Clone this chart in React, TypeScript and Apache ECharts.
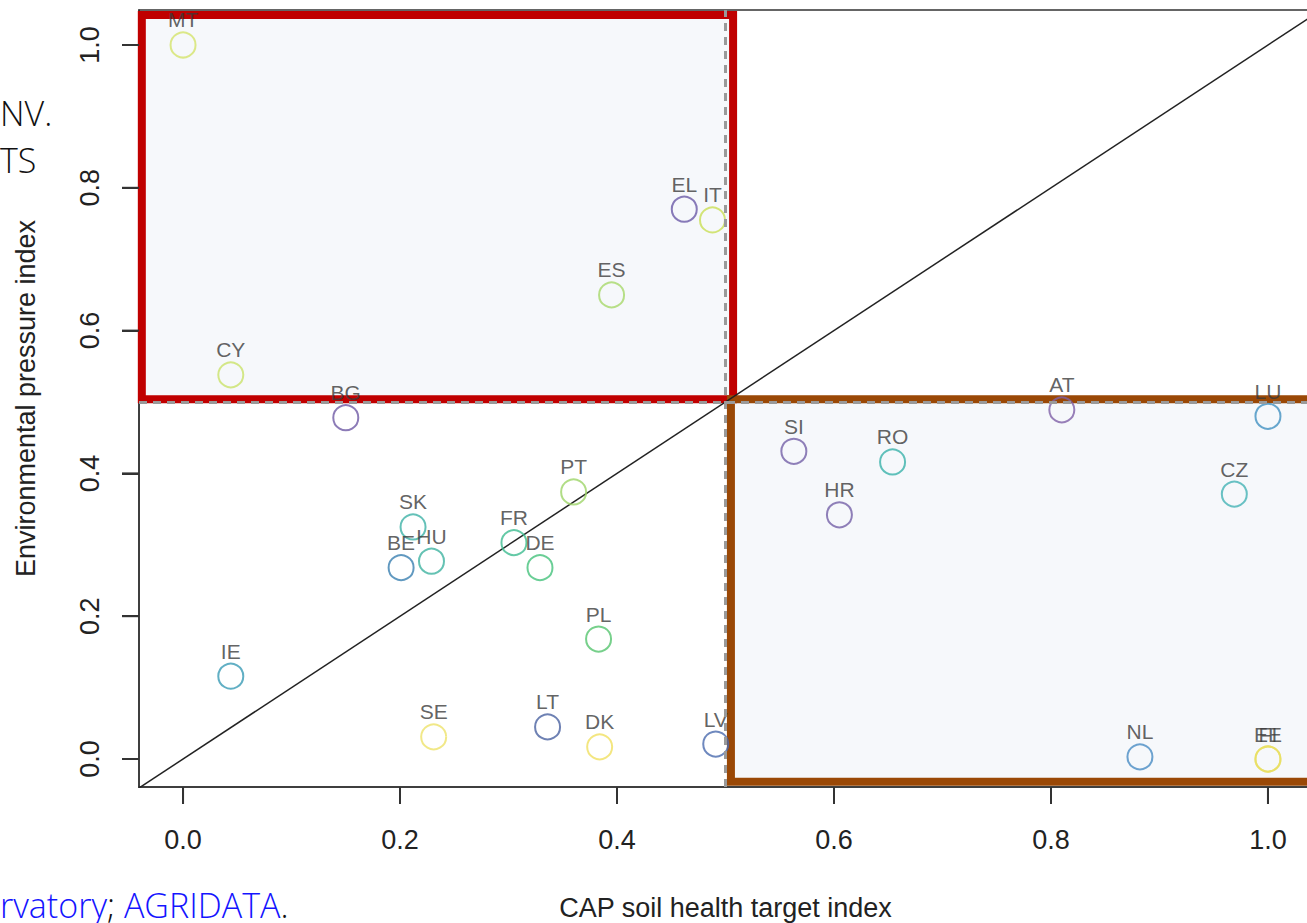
import React, { useEffect, useRef } from "react";
import * as echarts from "echarts";

const countries = ["MT","CY","BG","EL","IT","ES","PT","SK","BE","HU","FR","DE","PL","IE","SE","LT","DK","LV","SI","HR","RO","AT","LU","CZ","NL","EE","FI"];
const soilIndex = [0.0,0.044,0.150,0.462,0.488,0.395,0.360,0.212,0.201,0.229,0.305,0.329,0.383,0.044,0.231,0.336,0.384,0.491,0.563,0.605,0.654,0.810,1.0,0.969,0.882,1.0,1.0];
const pressureIndex = [1.0,0.538,0.478,0.770,0.755,0.650,0.374,0.325,0.268,0.277,0.303,0.268,0.168,0.116,0.031,0.045,0.017,0.021,0.431,0.342,0.416,0.489,0.480,0.371,0.003,0.0,0.0];
const pointColors = ["#D4E46B","#CBE26A","#6F5AA5","#6B5AA8","#C9DF55","#A8D86A","#9ED468","#3DB1A6","#3A7FB0","#3EB3A0","#3DBB90","#45C27C","#55C46E","#3A9BB5","#EEE26A","#4A62A0","#F0E060","#4A6AAE","#7460A8","#7460A8","#3AB2AA","#8060A8","#4291C2","#45B3B5","#4A8CC4","#E9DE60","#E9DE60"];
const tickValues = [0, 0.2, 0.4, 0.6, 0.8, 1.0];
const xTitle = "CAP soil health target index";
const yTitle = "Environmental pressure index";

const X_MIN = -0.0406, X_MAX = 1.0406;
const Y_MIN = -0.0392, Y_MAX = 1.049;
const G_LEFT = 139, G_TOP = 10, G_W = 1173, G_H = 777;

export default function App() {
  const ref = useRef<HTMLDivElement>(null);
  useEffect(() => {
    document.body.style.margin = "0";
    const chart = echarts.init(ref.current!, null, { renderer: "svg" });
    const axisFont = "'Liberation Sans', Arial, sans-serif";
    const sideFont = "'Open Sans', sans-serif";
    const tickLen = 17;
    const xPix = (v: number) => G_LEFT + ((v - X_MIN) / (X_MAX - X_MIN)) * G_W;
    const yPix = (v: number) => G_TOP + ((Y_MAX - v) / (Y_MAX - Y_MIN)) * G_H;
    const tickItems: any[] = [];
    tickValues.forEach((v) => {
      const px = xPix(v);
      const py = yPix(v);
      tickItems.push({ type: "line", zlevel: 1, z: 100, shape: { x1: px, y1: G_TOP + G_H, x2: px, y2: G_TOP + G_H + tickLen }, style: { stroke: "#333", lineWidth: 2 } });
      tickItems.push({ type: "line", zlevel: 1, z: 100, shape: { x1: G_LEFT, y1: py, x2: G_LEFT - tickLen, y2: py }, style: { stroke: "#333", lineWidth: 2 } });
    });
    const textItems: any[] = [
      { type: "text", style: { x: 0, y: 113, text: "NV.", fontSize: 34, fontFamily: sideFont, fontWeight: 300, fill: "#111", verticalAlign: "middle" } },
      { type: "text", style: { x: 0, y: 160, text: "TS", fontSize: 34, fontFamily: sideFont, fontWeight: 300, fill: "#111", verticalAlign: "middle" } },
      {
        type: "text",
        style: {
          x: 0, y: 905,
          text: "{b|rvatory}{k|; }{b|AGRIDATA}{k|.}",
          verticalAlign: "middle",
          rich: {
            b: { fontSize: 34, fontFamily: sideFont, fontWeight: 300, fill: "#1414FF", color: "#1414FF" },
            k: { fontSize: 34, fontFamily: sideFont, fontWeight: 300, fill: "#111", color: "#111" },
          },
        },
      },
    ];
    chart.setOption({
      animation: false,
      backgroundColor: "#ffffff",
      grid: { left: G_LEFT, top: G_TOP, width: G_W, height: G_H, show: true, borderColor: "#333", borderWidth: 1.5, backgroundColor: "transparent", containLabel: false, outerBoundsMode: "none" },
      xAxis: {
        type: "value", min: X_MIN, max: X_MAX,
        axisLine: { show: true, onZero: false, lineStyle: { color: "#333", width: 1.5 } }, splitLine: { show: false },
        axisTick: { show: true, inside: false, customValues: tickValues, length: tickLen, lineStyle: { color: "#333", width: 2 } },
        axisLabel: { customValues: tickValues, formatter: (v: number) => v.toFixed(1), fontSize: 27, color: "#222", margin: 39, fontFamily: axisFont },
        name: xTitle, nameLocation: "middle", nameGap: 107,
        nameTextStyle: { fontSize: 27, color: "#222", fontFamily: axisFont },
      },
      yAxis: {
        type: "value", min: Y_MIN, max: Y_MAX,
        axisLine: { show: true, onZero: false, lineStyle: { color: "#333", width: 1.5 } }, splitLine: { show: false },
        axisTick: { show: true, inside: false, customValues: tickValues, length: tickLen, lineStyle: { color: "#333", width: 2 } },
        axisLabel: { customValues: tickValues, formatter: (v: number) => v.toFixed(1), fontSize: 27, color: "#222", margin: 36, rotate: 90, fontFamily: axisFont },
        name: yTitle, nameLocation: "middle", nameGap: 100,
        nameTextStyle: { fontSize: 27, color: "#222", fontFamily: axisFont },
      },
      graphic: [...textItems, ...tickItems],
      series: [
        {
          type: "line",
          data: [[-0.2, -0.2], [1.2, 1.2]],
          symbol: "none",
          lineStyle: { color: "#222", width: 1.5 },
          z: 1,
          markLine: {
            silent: true, symbol: "none", label: { show: false },
            lineStyle: { color: "#9a9a9a", type: [8, 6], width: 3 },
            data: [{ xAxis: 0.5 }, { yAxis: 0.5 }],
          },
        },
        {
          type: "scatter",
          symbol: "circle",
          symbolSize: 25,
          z: 3,
          data: countries.map((c, i) => ({
            name: c,
            value: [soilIndex[i], pressureIndex[i]],
            itemStyle: { color: "rgba(0,0,0,0)", borderColor: pointColors[i], borderWidth: 2 },
          })),
          label: { show: true, position: "top", distance: 1, formatter: "{b}", color: "#3a3a3a", fontSize: 21, fontFamily: axisFont },
        },
        {
          type: "line",
          data: [],
          z: 10,
          markArea: {
            silent: true,
            label: { show: false },
            data: [
              [
                { coord: [-0.038, 1.042], itemStyle: { color: "rgba(200,214,232,0.16)", borderColor: "#C00000", borderWidth: 8 } },
                { coord: [0.507, 0.504] },
              ],
              [
                { coord: [0.505, 0.504], itemStyle: { color: "rgba(200,214,232,0.16)", borderColor: "#9A4806", borderWidth: 8 } },
                { coord: [1.1, -0.032] },
              ],
            ],
          },
        },
      ],
    });
    return () => chart.dispose();
  }, []);
  return <div ref={ref} style={{ width: 1307, height: 923 }} />;
}
